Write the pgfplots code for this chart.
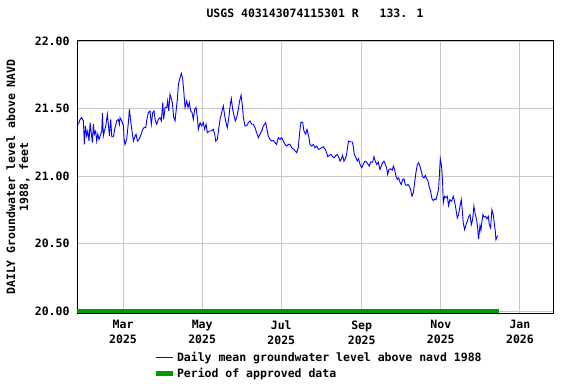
\documentclass[border=0pt]{standalone}
\usepackage{pgfplots}
\pgfplotsset{compat=1.18}
\usepackage{fontspec}
\newfontfamily\chartfont{DejaVu Sans Mono}
\newcommand{\cf}{\chartfont\bfseries\fontsize{11.5bp}{13bp}\selectfont}
\newcommand{\cfx}{\chartfont\bfseries\fontsize{11.5bp}{15bp}\selectfont}
\definecolor{usgsblue}{RGB}{0,0,255}
\definecolor{usgsgreen}{RGB}{0,155,0}
\definecolor{gridgray}{RGB}{200,200,200}
\begin{document}
\begin{tikzpicture}
\useasboundingbox (0,0) rectangle (576bp,384bp);
\begin{axis}[
  at={(77bp,71bp)}, anchor=south west,
  width=476bp, height=272bp, scale only axis,
  xmin=-35.5, xmax=331.5,
  ymin=19.985, ymax=22,
  axis line style={black, line width=1bp},
  clip=false,
  grid=major,
  major grid style={gridgray, line width=0.9bp},
  major tick length=0pt,
  xtick={0,61,122,184,245,306},
  xticklabels={Mar\\2025, May\\2025, Jul\\2025, Sep\\2025, Nov\\2025, Jan\\2026},
  xticklabel style={align=center, font=\cfx, yshift=-4bp},
  ytick={20,20.5,21,21.5,22},
  yticklabel style={font=\cf, xshift=-4bp},
  /pgf/number format/assume math mode=true,
  /pgf/number format/fixed,
  /pgf/number format/fixed zerofill,
  /pgf/number format/precision=2,
  title={USGS 403143074115301 R\ \ \ 133. 1},
  title style={font=\cf, anchor=base, at={(axis description cs:0.5,1)}, yshift=18bp},
  ylabel={DAILY Groundwater level above NAVD\\1988, feet},
  ylabel style={font=\cf, align=center, at={(axis description cs:0,0.5)}, anchor=center, yshift=59bp},
  legend style={draw=none, fill=none, font=\cf, at={(rel axis cs:0.1534,-0.128)}, anchor=north west, row sep=1bp},
  legend cell align=left,
]
\addplot[usgsblue, line width=0.9bp] coordinates {
(-34.4,21.383) (-33.1,21.420) (-31.9,21.432) (-30.6,21.408) (-29.8,21.234) (-29.0,21.371)
(-28.0,21.296) (-27.2,21.333) (-26.2,21.259) (-25.4,21.395) (-24.7,21.333) (-23.6,21.247)
(-22.9,21.383) (-22.1,21.309) (-21.1,21.333) (-20.3,21.259) (-19.5,21.309) (-18.5,21.271)
(-17.7,21.296) (-16.4,21.333) (-15.9,21.465) (-15.2,21.296) (-14.4,21.333) (-13.3,21.371)
(-12.1,21.457) (-11.3,21.383) (-10.5,21.296) (-9.5,21.420) (-8.7,21.291) (-7.4,21.291)
(-6.2,21.358) (-4.9,21.408) (-3.6,21.420) (-2.8,21.383) (-2.3,21.432) (-1.0,21.408)
(0.3,21.371) (0.8,21.271) (1.5,21.234) (2.8,21.271) (4.1,21.395) (4.9,21.494)
(5.9,21.408) (6.9,21.333) (8.0,21.259) (9.3,21.296) (10.0,21.309) (11.1,21.259)
(12.3,21.271) (13.6,21.301) (15.2,21.346) (16.2,21.358) (17.5,21.358) (18.2,21.408)
(19.5,21.470) (20.8,21.482) (21.8,21.383) (22.9,21.470) (23.9,21.482) (24.9,21.408)
(26.0,21.383) (27.2,21.420) (28.5,21.432) (29.5,21.408) (30.6,21.544) (31.3,21.420)
(32.4,21.507) (33.7,21.507) (34.4,21.556) (35.2,21.482) (36.2,21.606) (37.0,21.581)
(38.0,21.544) (39.1,21.432) (40.1,21.408) (40.9,21.482) (41.9,21.569) (42.7,21.680)
(44.0,21.730) (45.0,21.760) (46.0,21.718) (47.0,21.606) (47.8,21.507) (49.1,21.556)
(50.1,21.507) (51.1,21.544) (52.2,21.482) (53.2,21.470) (54.2,21.420) (55.2,21.494)
(56.3,21.507) (57.3,21.432) (58.1,21.346) (59.4,21.395) (60.6,21.371) (61.9,21.395)
(62.9,21.346) (64.0,21.383) (65.0,21.321) (66.5,21.333) (68.1,21.333) (69.6,21.346)
(70.7,21.309) (71.4,21.259) (72.7,21.271) (73.7,21.346) (74.8,21.420) (76.1,21.470)
(77.3,21.519) (78.4,21.445) (79.4,21.395) (80.4,21.358) (81.7,21.445) (82.5,21.519)
(83.5,21.574) (84.5,21.494) (85.6,21.445) (86.6,21.408) (87.6,21.432) (88.9,21.494)
(89.9,21.556) (91.0,21.599) (92.0,21.519) (92.8,21.432) (94.0,21.371) (95.3,21.371)
(96.6,21.395) (97.9,21.408) (99.2,21.383) (100.5,21.383) (101.7,21.358) (103.0,21.321)
(104.3,21.284) (105.6,21.309) (106.9,21.333) (108.2,21.371) (110.0,21.395) (110.7,21.358)
(112.0,21.296) (113.3,21.271) (114.6,21.259) (115.9,21.264) (117.2,21.247) (118.4,21.234)
(119.7,21.284) (121.0,21.271) (122.3,21.284) (123.6,21.259) (124.9,21.234) (126.1,21.222)
(127.4,21.234) (128.7,21.234) (130.0,21.209) (131.8,21.197) (133.9,21.172) (135.1,21.209)
(136.4,21.346) (137.2,21.400) (138.5,21.395) (139.5,21.333) (140.8,21.309) (141.8,21.346)
(143.1,21.296) (144.1,21.234) (145.4,21.222) (146.7,21.234) (148.0,21.209) (149.3,21.222)
(150.6,21.197) (151.8,21.202) (153.1,21.209) (154.4,21.217) (155.7,21.202) (157.0,21.172)
(157.8,21.143) (159.0,21.152) (160.3,21.160) (161.6,21.143) (162.9,21.135) (164.2,21.152)
(165.2,21.160) (166.5,21.135) (167.3,21.110) (168.3,21.128) (169.3,21.152) (170.3,21.110)
(171.4,21.128) (172.4,21.160) (173.2,21.222) (173.9,21.259) (175.5,21.252) (176.8,21.252)
(177.5,21.222) (178.3,21.160) (179.6,21.135) (180.6,21.110) (181.6,21.128) (182.7,21.086)
(184.0,21.061) (185.2,21.086) (186.5,21.110) (187.8,21.103) (189.9,21.073) (190.9,21.103)
(192.4,21.103) (193.5,21.143) (194.5,21.110) (195.5,21.086) (196.8,21.103) (198.1,21.048)
(199.1,21.073) (200.1,21.098) (201.2,21.110) (202.2,21.086) (203.2,21.061) (204.0,21.011)
(205.0,21.048) (206.3,21.053) (207.6,21.043) (208.4,21.073) (209.4,21.048) (210.4,20.999)
(211.5,20.974) (212.5,20.986) (213.5,20.954) (214.5,20.937) (215.6,20.974) (216.6,20.979)
(217.6,20.937) (218.6,20.929) (219.7,20.937) (220.7,20.924) (221.7,20.900) (222.8,20.850)
(223.8,20.875) (224.8,20.949) (225.8,21.024) (226.9,21.086) (227.9,21.098) (228.9,21.073)
(229.9,21.036) (231.0,20.994) (232.0,20.986) (233.0,21.004) (234.1,20.979) (235.1,20.962)
(236.1,20.919) (237.1,20.887) (238.2,20.830) (239.2,20.818) (240.2,20.830) (241.3,20.825)
(242.3,20.862) (243.3,20.905) (244.6,21.128) (245.6,21.073) (246.4,20.949) (246.9,20.800)
(247.9,20.850) (249.0,20.838) (250.0,20.850) (251.0,20.781) (252.0,20.825) (253.3,20.813)
(254.6,20.850) (255.6,20.813) (256.7,20.751) (257.7,20.689) (258.7,20.714) (259.8,20.776)
(260.8,20.825) (261.6,20.739) (262.3,20.652) (263.4,20.602) (264.4,20.639) (265.4,20.664)
(266.4,20.696) (267.5,20.714) (268.5,20.639) (269.5,20.677) (270.5,20.776) (271.6,20.714)
(272.6,20.677) (273.4,20.615) (274.1,20.533) (275.2,20.632) (275.9,20.597) (276.7,20.664)
(277.5,20.714) (278.5,20.696) (279.5,20.701) (280.6,20.682) (281.6,20.701) (282.4,20.639)
(283.4,20.615) (284.4,20.751) (285.4,20.714) (286.2,20.652) (287.0,20.590) (287.5,20.528)
(288.0,20.540) (288.8,20.558)
};
\addlegendentry{Daily mean groundwater level above navd 1988}
\addplot[usgsgreen, line width=4.8bp] coordinates {(-35.5,20) (290,20)};
\addlegendentry{Period of approved data}
\end{axis}
\end{tikzpicture}
\end{document}
